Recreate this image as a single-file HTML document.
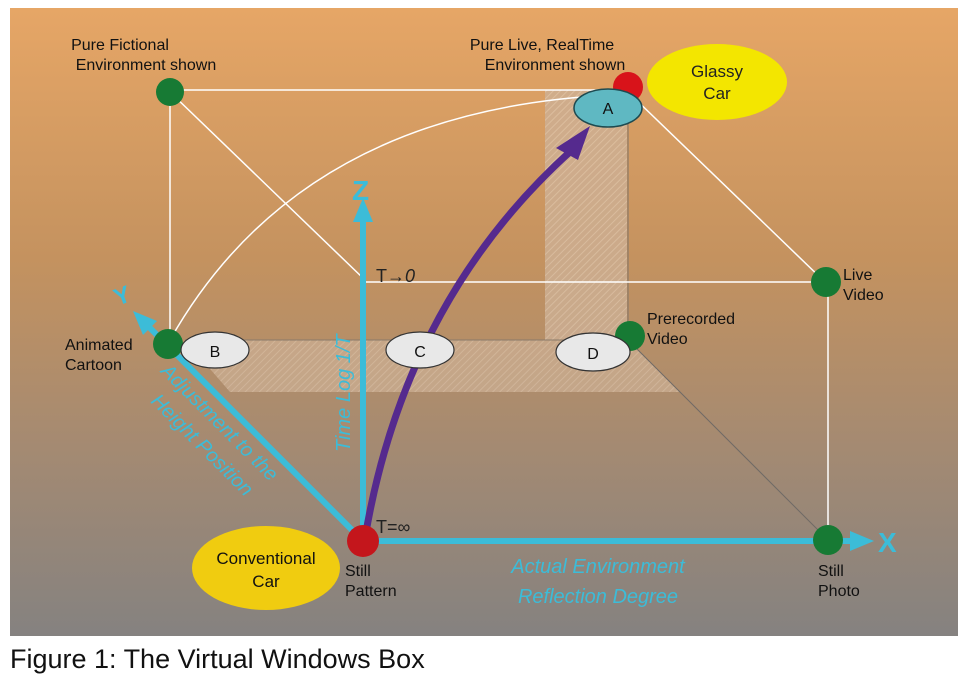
<!DOCTYPE html>
<html><head><meta charset="utf-8"><style>
html,body{margin:0;padding:0;background:#fff;width:962px;height:678px;overflow:hidden}
svg{display:block}
text{font-family:"Liberation Sans",sans-serif}
</style></head><body>
<svg width="962" height="678" viewBox="0 0 962 678" xmlns="http://www.w3.org/2000/svg">
<defs>
<linearGradient id="bg" x1="0" y1="0" x2="0" y2="1">
<stop offset="0" stop-color="#e6a666"/>
<stop offset="0.4" stop-color="#c4925f"/>
<stop offset="0.7" stop-color="#a48a72"/>
<stop offset="1" stop-color="#858280"/>
</linearGradient>
<pattern id="hatch" width="5" height="5" patternUnits="userSpaceOnUse" patternTransform="rotate(45)">
<rect width="5" height="5" fill="#cdb095"/>
<line x1="0" y1="0" x2="0" y2="5" stroke="#ddc5ac" stroke-width="2"/>
</pattern>
</defs>
<rect x="10" y="8" width="948" height="628" fill="url(#bg)"/>
<rect x="545" y="90" width="82" height="250" fill="url(#hatch)" opacity="0.8"/>
<polygon points="185,340 628,340 680,392 230,392" fill="url(#hatch)" opacity="0.7"/>
<line x1="628" y1="92" x2="628" y2="340" stroke="#8a7a6a" stroke-width="1.2"/>
<line x1="185" y1="340" x2="628" y2="340" stroke="#8a7a6a" stroke-width="1"/>
<line x1="628" y1="340" x2="828" y2="540" stroke="#6f6a66" stroke-width="1"/>
<g stroke="#fff" stroke-width="1.5" fill="none">
<line x1="170" y1="90" x2="628" y2="90"/>
<line x1="170" y1="92" x2="170" y2="340"/>
<line x1="170" y1="92" x2="365" y2="280"/>
<path d="M170,340 Q300,110 612,95"/>
<line x1="628" y1="92" x2="826" y2="283"/>
<line x1="365" y1="282" x2="826" y2="282"/>
<line x1="828" y1="283" x2="828" y2="540"/>
</g>
<g stroke="#3cbcd8" stroke-width="6" fill="none">
<line x1="363" y1="541" x2="363" y2="215"/>
<line x1="363" y1="541" x2="855" y2="541"/>
<line x1="363" y1="541" x2="148" y2="326"/>
</g>
<polygon points="363,198 353,222 373,222" fill="#3cbcd8"/>
<polygon points="874,541 850,531 850,551" fill="#3cbcd8"/>
<polygon points="133,311 157,321 143,335" fill="#3cbcd8"/>
<text x="352" y="200" font-size="28" font-weight="bold" fill="#3cbcd8">Z</text>
<text x="878" y="552" font-size="28" font-weight="bold" fill="#3cbcd8">X</text>
<text x="114" y="303" font-size="24" font-weight="bold" fill="#3cbcd8" transform="rotate(-20 124 295)">Y</text>
<path d="M365,538 Q405,300 572,150" stroke="#552a8e" stroke-width="7" fill="none"/>
<polygon points="590,126 556,148 578,160" fill="#552a8e"/>
<text x="376" y="282" font-size="18" fill="#222">T→<tspan font-style="italic">0</tspan></text>
<text x="376" y="533" font-size="18" fill="#222">T=∞</text>
<text transform="translate(350 452) rotate(-90)" font-size="20" font-style="italic" fill="#3cbcd8">Time Log 1/T</text>
<text transform="translate(160 372) rotate(45)" font-size="20" font-style="italic" fill="#3cbcd8">Adjustment to the</text>
<text transform="translate(150 402) rotate(45)" font-size="20" font-style="italic" fill="#3cbcd8">Height Position</text>
<text x="598" y="573" font-size="20" font-style="italic" fill="#3cbcd8" text-anchor="middle">Actual Environment</text>
<text x="598" y="603" font-size="20" font-style="italic" fill="#3cbcd8" text-anchor="middle">Reflection Degree</text>
<circle cx="170" cy="92" r="14" fill="#177a34"/>
<circle cx="628" cy="87" r="15" fill="#d8131a"/>
<circle cx="826" cy="282" r="15" fill="#177a34"/>
<circle cx="630" cy="336" r="15" fill="#177a34"/>
<circle cx="168" cy="344" r="15" fill="#177a34"/>
<circle cx="828" cy="540" r="15" fill="#177a34"/>
<circle cx="363" cy="541" r="16" fill="#c4161c"/>
<ellipse cx="717" cy="82" rx="70" ry="38" fill="#f3e600"/>
<text x="717" y="77" font-size="17" text-anchor="middle" fill="#222">Glassy</text>
<text x="717" y="99" font-size="17" text-anchor="middle" fill="#222">Car</text>
<ellipse cx="608" cy="108" rx="34" ry="19" fill="#5fb8c2" stroke="#1e4a50" stroke-width="1.5"/>
<text x="608" y="114" font-size="16" text-anchor="middle" fill="#111">A</text>
<ellipse cx="215" cy="350" rx="34" ry="18" fill="#e8e8e8" stroke="#333" stroke-width="1.2"/>
<text x="215" y="357" font-size="16" text-anchor="middle" fill="#111">B</text>
<ellipse cx="420" cy="350" rx="34" ry="18" fill="#e8e8e8" stroke="#333" stroke-width="1.2"/>
<text x="420" y="357" font-size="16" text-anchor="middle" fill="#111">C</text>
<ellipse cx="593" cy="352" rx="37" ry="19" fill="#e8e8e8" stroke="#333" stroke-width="1.2"/>
<text x="593" y="359" font-size="16" text-anchor="middle" fill="#111">D</text>
<ellipse cx="266" cy="568" rx="74" ry="42" fill="#f0cc10"/>
<text x="266" y="564" font-size="17" text-anchor="middle" fill="#111">Conventional</text>
<text x="266" y="587" font-size="17" text-anchor="middle" fill="#111">Car</text>
<g font-size="16" fill="#111">
<text x="120" y="50" text-anchor="middle">Pure Fictional</text>
<text x="146" y="70" text-anchor="middle">Environment shown</text>
<text x="542" y="50" text-anchor="middle">Pure Live, RealTime</text>
<text x="555" y="70" text-anchor="middle">Environment shown</text>
<text x="843" y="280">Live</text>
<text x="843" y="300">Video</text>
<text x="647" y="324">Prerecorded</text>
<text x="647" y="344">Video</text>
<text x="65" y="350">Animated</text>
<text x="65" y="370">Cartoon</text>
<text x="345" y="576">Still</text>
<text x="345" y="596">Pattern</text>
<text x="818" y="576">Still</text>
<text x="818" y="596">Photo</text>
</g>
<text x="10" y="668" font-size="27" fill="#111">Figure 1: The Virtual Windows Box</text>
</svg>
</body></html>
